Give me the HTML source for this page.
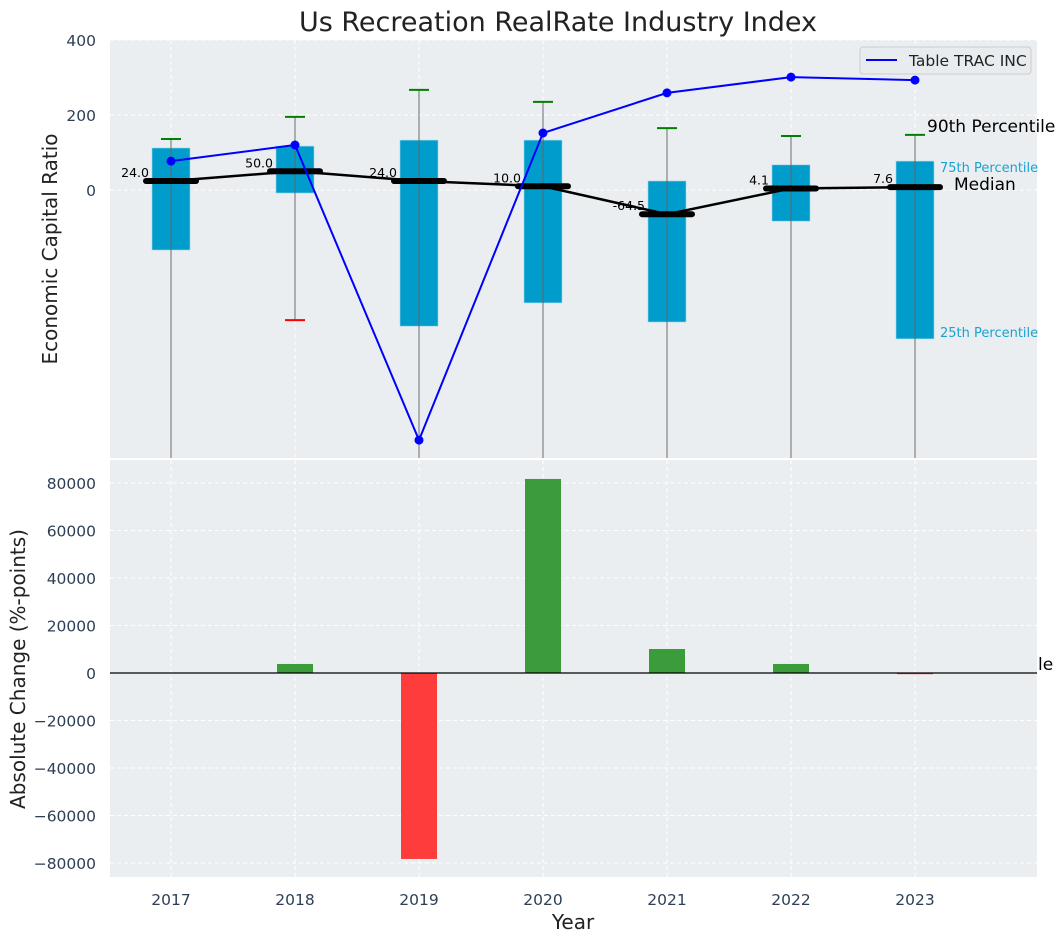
<!DOCTYPE html>
<html><head><meta charset="utf-8">
<style>
body{margin:0;background:#fff;}
svg{display:block;font-family:"DejaVu Sans","Liberation Sans",sans-serif;}
</style></head>
<body>
<svg id="chart" width="1063" height="942" viewBox="0 0 1063 942">
<text x="558" y="31" text-anchor="middle" font-size="27" fill="#222">Us Recreation RealRate Industry Index</text>
<rect x="110" y="40" width="927" height="418" fill="#eaeef0"/>
<rect x="110" y="460" width="927" height="417" fill="#eaeef0"/>
<g id="gtop"></g>
<g id="gbot"></g>
<text x="57" y="249" transform="rotate(-90 57 249)" text-anchor="middle" font-size="20" fill="#222">Economic Capital Ratio</text>
<text x="25" y="669" transform="rotate(-90 25 669)" text-anchor="middle" font-size="20" fill="#222">Absolute Change (%-points)</text>
<text x="573" y="929" text-anchor="middle" font-size="20" fill="#222">Year</text>
<g>
<rect x="860" y="47" width="171" height="27" rx="3" fill="#e8ecef" stroke="#ccc"/>
<line x1="866" y1="60" x2="897" y2="60" stroke="#0000ff" stroke-width="2"/>
<text x="909" y="66" font-size="15.5" fill="#222">Table TRAC INC</text>
</g>
</svg>
<script>
const years=[2017,2018,2019,2020,2021,2022,2023];
const q75=[112,117,133,133,24,67,77];
const q25=[-160,-8,-363,-301,-352,-83,-397];
const medians=[24,50,24,10,-64.5,4.1,7.6];
const p90=[136,195,267,235,165,144,147];
const p10=[null,-347,null,null,null,null,null];
const company=[77,120,-667,152,259,301,293];
const changes=[0,3800,-78300,81700,10100,3800,-500];
const topTicks=[400,200,0];
const botTicks=[80000,60000,40000,20000,0,-20000,-40000,-60000,-80000];

const NS="http://www.w3.org/2000/svg";
function mk(p,t,a){const e=document.createElementNS(NS,t);for(const k in a)e.setAttribute(k,a[k]);p.appendChild(e);return e;}
const xS=i=>171+i*124;
const yT=v=>190-v*0.375;
const yB=v=>673-v*0.002375;
const gT=document.getElementById('gtop'),gB=document.getElementById('gbot');
const fmt=v=>(v<0?'\u2212':'')+Math.abs(v);

years.forEach((y,i)=>{
  let g=mk(gT,'line',{x1:xS(i),x2:xS(i),y1:40,y2:458,stroke:'#fff','stroke-dasharray':'4,3'});
  
  g=mk(gB,'line',{x1:xS(i),x2:xS(i),y1:460,y2:877,stroke:'#fff','stroke-dasharray':'4,3'});
  
  const t=mk(gB,'text',{x:xS(i),y:905,'text-anchor':'middle','font-size':15.5,fill:'#2e3f55'});t.textContent=y;
  
});
topTicks.forEach(v=>{
  const g=mk(gT,'line',{x1:110,x2:1037,y1:yT(v),y2:yT(v),stroke:'#fff','stroke-dasharray':'4,3'});
  
  const t=mk(gT,'text',{x:96,y:yT(v)+6,'text-anchor':'end','font-size':15.5,fill:'#2e3f55'});t.textContent=v;
  
});
botTicks.forEach(v=>{
  const g=mk(gB,'line',{x1:110,x2:1037,y1:yB(v),y2:yB(v),stroke:'#fff','stroke-dasharray':'4,3'});
  
  const t=mk(gB,'text',{x:96,y:yB(v)+6,'text-anchor':'end','font-size':15.5,fill:'#2e3f55'});t.textContent=fmt(v);
  
});

years.forEach((y,i)=>{
  const x=xS(i);
  const r=mk(gT,'rect',{x:x-19,y:yT(q75[i]),width:38,height:yT(q25[i])-yT(q75[i]),fill:'#009ccc',stroke:'#9cd6ea','stroke-width':0.6});
  
  const w=mk(gT,'line',{x1:x,x2:x,y1:yT(p90[i]),y2:p10[i]===null?458:yT(p10[i]),stroke:'#666','stroke-width':1.2,opacity:0.8});
  
  const c=mk(gT,'line',{x1:x-10,x2:x+10,y1:yT(p90[i]),y2:yT(p90[i]),stroke:'#008000','stroke-width':2});
  
  if(p10[i]!==null){
    const c2=mk(gT,'line',{x1:x-10,x2:x+10,y1:yT(p10[i]),y2:yT(p10[i]),stroke:'#ff0000','stroke-width':2});
    
  }
});
const mp=mk(gT,'polyline',{points:medians.map((v,i)=>xS(i)+','+yT(v)).join(' '),fill:'none',stroke:'#000','stroke-width':2.5});

medians.forEach((v,i)=>{
  const m=mk(gT,'line',{x1:xS(i)-25,x2:xS(i)+25,y1:yT(v),y2:yT(v),stroke:'#000','stroke-width':6,'stroke-linecap':'round'});
  
  const t=mk(gT,'text',{x:xS(i)-22,y:yT(v)-4,'text-anchor':'end','font-size':12.5,fill:'#000'});t.textContent=v.toFixed(1);
  
});
const cp=mk(gT,'polyline',{points:company.map((v,i)=>xS(i)+','+yT(v)).join(' '),fill:'none',stroke:'#0000ff','stroke-width':2});

company.forEach((v,i)=>{
  const c=mk(gT,'circle',{cx:xS(i),cy:yT(v),r:4.5,fill:'#0000ff'});
  
});
const L=years.length-1;
[[xS(L)+12,yT(p90[L])-3,'90th Percentile',17,'#000','p90-annotation'],
 [xS(L)+25,yT(q75[L])+11,'75th Percentile',13,'#1aa3d1','p75-annotation'],
 [xS(L)+39,yT(medians[L])+3,'Median',17,'#000','median-annotation'],
 [xS(L)+25,yT(q25[L])-2,'25th Percentile',13,'#1aa3d1','p25-annotation'],
 [1038,670,'le',17,'#000','clipped-label']].forEach(a=>{
  const t=mk(gT,'text',{x:a[0],y:a[1],'font-size':a[3],fill:a[4]});t.textContent=a[2];
  
});
changes.forEach((v,i)=>{
  const y0=yB(0),y1=yB(v);
  const b=mk(gB,'rect',{x:xS(i)-18,y:Math.min(y0,y1),width:36,height:Math.max(Math.abs(y1-y0),v===0?0:1),fill:v>=0?'#3a9c3a':'#ff3c3c'});
  
});
const z=mk(gB,'line',{x1:110,x2:1037,y1:yB(0),y2:yB(0),stroke:'#000','stroke-width':1.2});

</script>
</body></html>
